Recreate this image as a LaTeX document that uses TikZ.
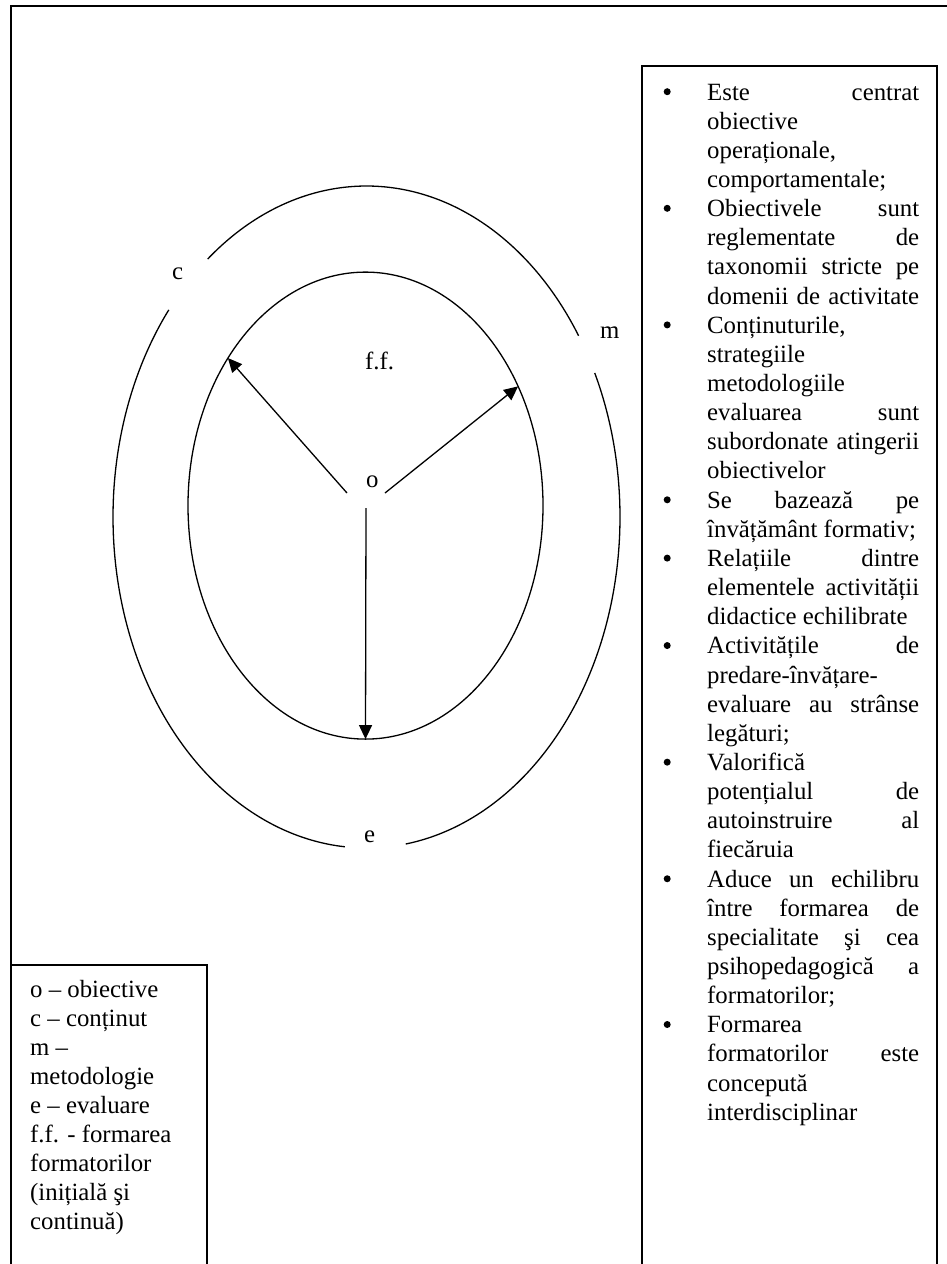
\documentclass[tikz,border=0pt]{standalone}
\usepackage{fontspec}
\setmainfont{Liberation Serif}
\usetikzlibrary{shapes.geometric,arrows.meta}
% a justified line of the given text, stretched to the column width
\newcommand\jl[1]{\makebox[\linewidth][s]{#1}}
% a round bullet hung to the left of the item text
\newcommand\bul{\leavevmode\llap{\raisebox{4.8pt}{\tikz\fill (0,0) circle (3.5pt);}\hspace{36.5pt}}}
\tikzset{
  frame/.style={line width=2.4pt},
  boxline/.style={line width=1.8pt},
  curve/.style={line width=1.3pt},
  ptr/.style={line width=1.3pt,-{Triangle[length=14pt,width=13pt]}},
  lbl/.style={anchor=base west,inner sep=0pt,font=\fontsize{24.8}{29.15}\selectfont},
}
\begin{document}
\begin{tikzpicture}[x=1pt,y=-1pt]
\useasboundingbox[fill=white] (0,0) rectangle (947,1264);

% outer frame and the two side boxes
\draw[frame] (11,1264) -- (11,6) -- (947,6);
\draw[boxline] (642,1264) -- (642,66) -- (937,66) -- (937,1264);
\draw[boxline] (11,965) -- (207,965) -- (207,1264);

% outer ring, broken where its letters stand
\draw[curve] plot[domain=-128.8:-33.2,samples=90,smooth] ({366.5+253.5*cos(\x)},{517+331*sin(\x)});
\draw[curve] plot[domain=-25.8:81.1,samples=90,smooth] ({366.5+253.5*cos(\x)},{517+331*sin(\x)});
\draw[curve] plot[domain=94.9:218.75,samples=90,smooth] ({366.5+253.5*cos(\x)},{517+331*sin(\x)});

% inner ring
\node[draw,curve,ellipse,minimum width=355pt,minimum height=467pt,inner sep=0pt,outer sep=0pt] (ff) at (365.5,505.6) {};

% letters
\node[lbl] (c) at (172,279) {c};
\node[lbl] (m) at (600,338) {m};
\node[lbl] (e) at (364,842) {e};
\node[lbl] (fflabel) at (365,369) {f.f.};
\node[lbl] (o) at (366,487) {o};

% arrows leaving the centre
\coordinate (oL) at (347,493);
\coordinate (oR) at (385,493);
\coordinate (oD) at (366,508);
\draw[ptr] (oL) -- (ff.133.8);
\draw[ptr] (oR) -- (ff.38);
\draw[ptr] (oD) -- (ff.south);

% list of features
\node[lbl] (list) at (707,100) {\parbox[t]{212pt}{\fontsize{24.8}{29.15}\selectfont
\bul\jl{Este centrat}\\
obiective\\
operaționale,\\
comportamentale;\\
\bul\jl{Obiectivele sunt}\\
\jl{reglementate de}\\
\jl{taxonomii stricte pe}\\
\jl{domenii de activitate}\\
\bul Conținuturile,\\
strategiile\\
metodologiile\\
\jl{evaluarea sunt}\\
\jl{subordonate atingerii}\\
obiectivelor\\
\bul\jl{Se bazează pe}\\
învățământ formativ;\\
\bul\jl{Relațiile dintre}\\
\jl{elementele activității}\\
didactice echilibrate\\
\bul\jl{Activitățile de}\\
predare-învățare-\\
\jl{evaluare au strânse}\\
legături;\\
\bul Valorifică\\
\jl{potențialul de}\\
\jl{autoinstruire al}\\
fiecăruia\\
\bul\jl{Aduce un echilibru}\\
\jl{între formarea de}\\
\jl{specialitate şi cea}\\
\jl{psihopedagogică a}\\
formatorilor;\\
\bul Formarea\\
\jl{formatorilor este}\\
concepută\\
interdisciplinar}};

% legend
\node[lbl] (legend) at (30,997) {\parbox[t]{170pt}{\fontsize{24.8}{29}\selectfont
o – obiective\\
c – conținut\\
m –\\
metodologie\\
e – evaluare\\
f.f. - formarea\\
formatorilor\\
(inițială şi\\
continuă)}};
\end{tikzpicture}
\end{document}
